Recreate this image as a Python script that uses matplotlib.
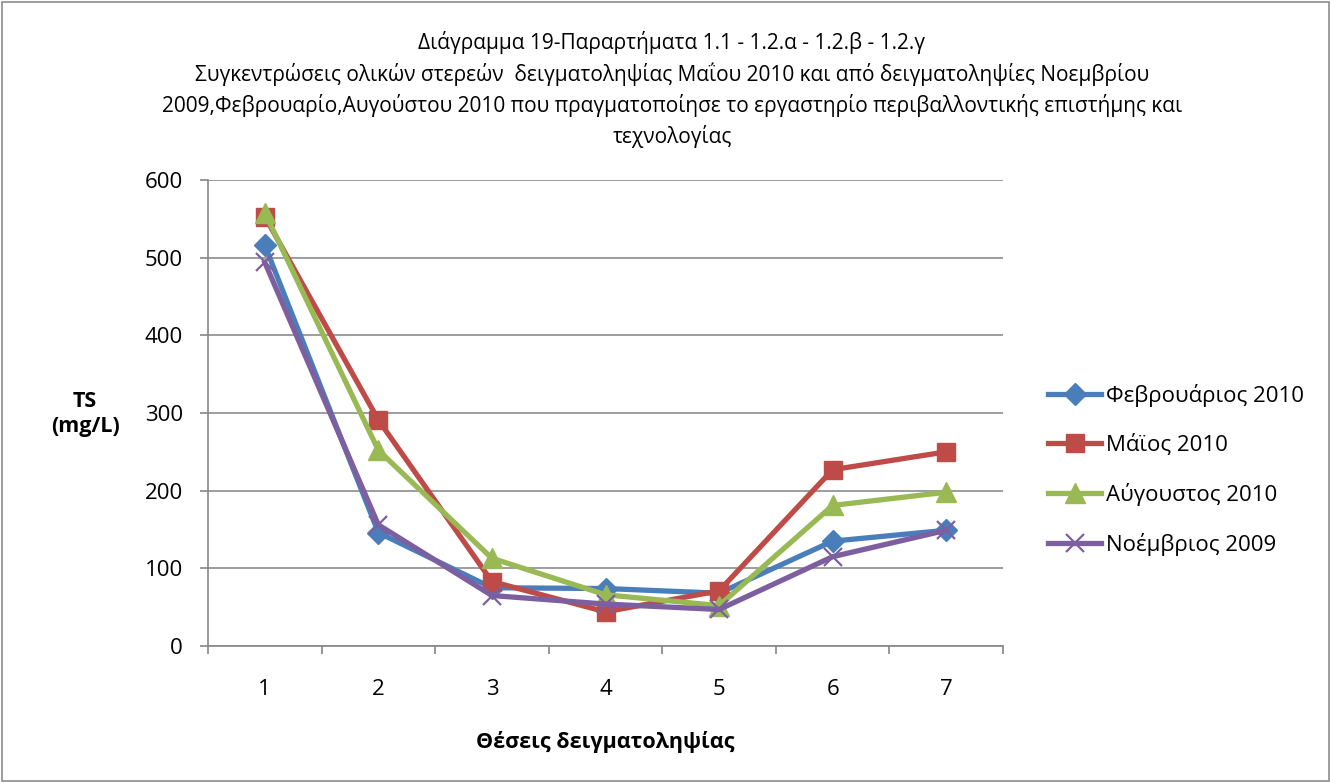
import matplotlib
matplotlib.use("Agg")
import matplotlib.pyplot as plt
from matplotlib.patches import Rectangle

plt.rcParams['font.family'] = ['Open Sans', 'DejaVu Sans']

positions = [1, 2, 3, 4, 5, 6, 7]
feb_2010 = [516, 146, 75, 74, 68, 135, 149]
may_2010 = [553, 291, 83, 44, 71, 227, 250]
aug_2010 = [558, 252, 113, 66, 52, 181, 198]
nov_2009 = [494, 156, 65, 54, 47, 115, 149]

series_names = ['Φεβρουάριος 2010', 'Μάϊος 2010', 'Αύγουστος 2010', 'Νοέμβριος 2009']

title = ("Διάγραμμα 19-Παραρτήματα 1.1 - 1.2.α - 1.2.β - 1.2.γ\n"
         "Συγκεντρώσεις ολικών στερεών  δειγματοληψίας Μαΐου 2010 και από δειγματοληψίες Νοεμβρίου\n"
         "2009,Φεβρουαρίο,Αυγούστου 2010 που πραγματοποίησε το εργαστηρίο περιβαλλοντικής επιστήμης και\n"
         "τεχνολογίας")

W, H = 1330, 782
fig = plt.figure(figsize=(W / 100, H / 100), dpi=100)
fig.patch.set_facecolor('white')
fig.add_artist(Rectangle((1.5 / W, 1.5 / H), 1 - 3 / W, 1 - 3 / H,
                         transform=fig.transFigure, fill=False,
                         edgecolor='#8c8c8c', linewidth=1.2))

left, right, top, bottom = 208, 1003, 180, 646
ax = fig.add_axes([left / W, 1 - bottom / H, (right - left) / W, (bottom - top) / H])

styles = [
    dict(color='#4a7ebb', marker='D', markersize=11.5),
    dict(color='#be4b48', marker='s', markersize=13.5),
    dict(color='#98b954', marker='^', markersize=14.5),
    dict(color='#7d5fa0', marker='x', markersize=13, markeredgewidth=1.6),
]
data = [feb_2010, may_2010, aug_2010, nov_2009]
for name, vals, st in zip(series_names, data, styles):
    ax.plot(positions, vals, linewidth=3.8, label=name, solid_joinstyle='round',
            **st)

ax.set_xlim(0.5, 7.5)
ax.set_ylim(0, 600)
ax.set_yticks(range(0, 601, 100))
ax.set_xticks(positions)
ax.set_xticks([p + 0.5 for p in [0] + positions], minor=True)
ax.tick_params(axis='x', which='major', length=0, pad=24, labelsize=16)
ax.tick_params(axis='x', which='minor', length=6, color='#868686', width=1.2)
ax.tick_params(axis='y', length=6, color='#868686', width=1.2, labelsize=16, pad=12)
ax.grid(axis='y', color='#8c8c8c', linewidth=1.2)
ax.set_axisbelow(True)
for s in ['top', 'right']:
    ax.spines[s].set_visible(False)
for s in ['left', 'bottom']:
    ax.spines[s].set_color('#868686')
    ax.spines[s].set_linewidth(1.2)

fig.text(672 / W, 1 - 31 / H, title, ha='center', va='top', fontsize=15,
         linespacing=1.45)
fig.text(85 / W, 1 - 414 / H, 'TS\n(mg/L)', ha='center', va='center',
         fontsize=15.5, fontweight='bold', linespacing=1.3)
fig.text(605 / W, 1 - 742 / H, 'Θέσεις δειγματοληψίας', ha='center', va='center',
         fontsize=15.5, fontweight='bold')

leg = fig.legend(loc='center left', bbox_to_anchor=(1028 / W, 1 - 470 / H),
                 frameon=False, fontsize=16, handlelength=2.4,
                 labelspacing=1.22, handletextpad=0.2)

fig.savefig('out.png', dpi=100)
